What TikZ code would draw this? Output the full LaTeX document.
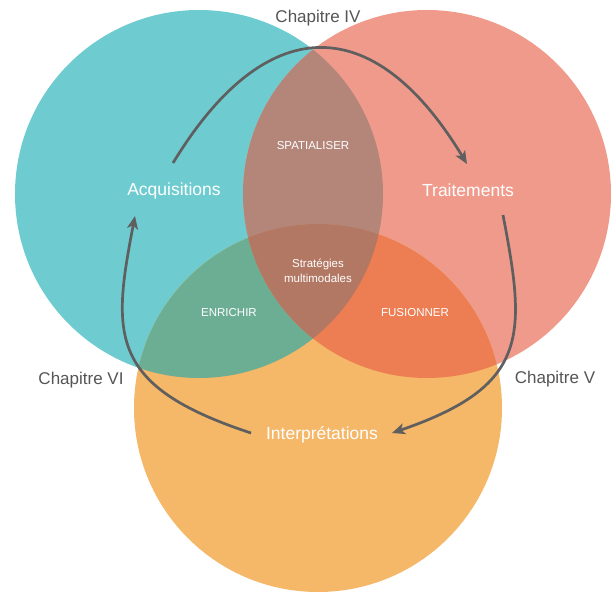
\documentclass[tikz,border=0pt]{standalone}
\usepackage{fontspec}
\setmainfont{Liberation Sans}
\usetikzlibrary{arrows.meta}
\definecolor{cCyan}{RGB}{110,204,209}
\definecolor{cSalmon}{RGB}{240,154,139}
\definecolor{cOrange}{RGB}{245,183,104}
\definecolor{cLens}{RGB}{180,134,122}
\definecolor{cGreen}{RGB}{108,174,148}
\definecolor{cDarkOr}{RGB}{237,125,82}
\definecolor{cCenter}{RGB}{178,120,100}
\definecolor{cArrow}{RGB}{95,95,95}
\definecolor{cChap}{RGB}{85,85,85}
\tikzset{
  bigtxt/.style={text=white, font=\fontsize{17.5}{20}\selectfont, inner sep=0pt},
  smalltxt/.style={text=white, font=\fontsize{11.5}{15}\selectfont, inner sep=0pt, align=center},
  chap/.style={text=cChap, font=\fontsize{17}{20}\selectfont, inner sep=0pt},
  flow/.style={draw=cArrow, line width=2.7pt, -{Stealth[length=13pt,width=11pt,inset=3.5pt]}}
}
\begin{document}
\begin{tikzpicture}[x=1pt,y=-1pt]
\useasboundingbox (0,0) rectangle (614,592);
\coordinate (cA) at (199,194);
\coordinate (cT) at (427,194);
\coordinate (cI) at (318,408);
% base circles
\fill[cCyan] (cA) circle[radius=184pt];
\fill[cSalmon] (cT) circle[radius=184pt];
\fill[cOrange] (cI) circle[radius=184pt];
% pairwise overlaps
\begin{scope}
  \clip (cA) circle[radius=184pt];
  \fill[cLens] (cT) circle[radius=184pt];
\end{scope}
\begin{scope}
  \clip (cA) circle[radius=184pt];
  \fill[cGreen] (cI) circle[radius=184pt];
\end{scope}
\begin{scope}
  \clip (cT) circle[radius=184pt];
  \fill[cDarkOr] (cI) circle[radius=184pt];
\end{scope}
\begin{scope}
  \clip (cA) circle[radius=184pt];
  \clip (cT) circle[radius=184pt];
  \fill[cCenter] (cI) circle[radius=184pt];
\end{scope}
% labels
\node[bigtxt] (acq) at (174,191) {Acquisitions};
\node[bigtxt] (trt) at (468,190) {Traitements};
\node[bigtxt] (itp) at (322,435) {Interprétations};
\node[smalltxt] (spa) at (313,146) {SPATIALISER};
\node[smalltxt] (strat) at (318,271) {Stratégies\\multimodales};
\node[smalltxt] (enr) at (229,313) {ENRICHIR};
\node[smalltxt] (fus) at (415,313) {FUSIONNER};
\node[chap] (ch4) at (318,18) {Chapitre IV};
\node[chap] (ch6) at (81,380) {Chapitre VI};
\node[chap] (ch5) at (555,379) {Chapitre V};
% arrow endpoints
\coordinate (a1s) at (173,163);
\coordinate (a1e) at (467,164);
\coordinate (a2s) at (503,215);
\coordinate (a2e) at (392,433);
\coordinate (a3s) at (251,433);
\coordinate (a3e) at (135,216);
\draw[flow] (a1s) .. controls (266,10) and (374,10) .. (a1e);
\draw[flow] (a2s) .. controls (526,335) and (530,386) .. (a2e);
\draw[flow] (a3s) .. controls (108,386) and (112,335) .. (a3e);
\end{tikzpicture}
\end{document}
